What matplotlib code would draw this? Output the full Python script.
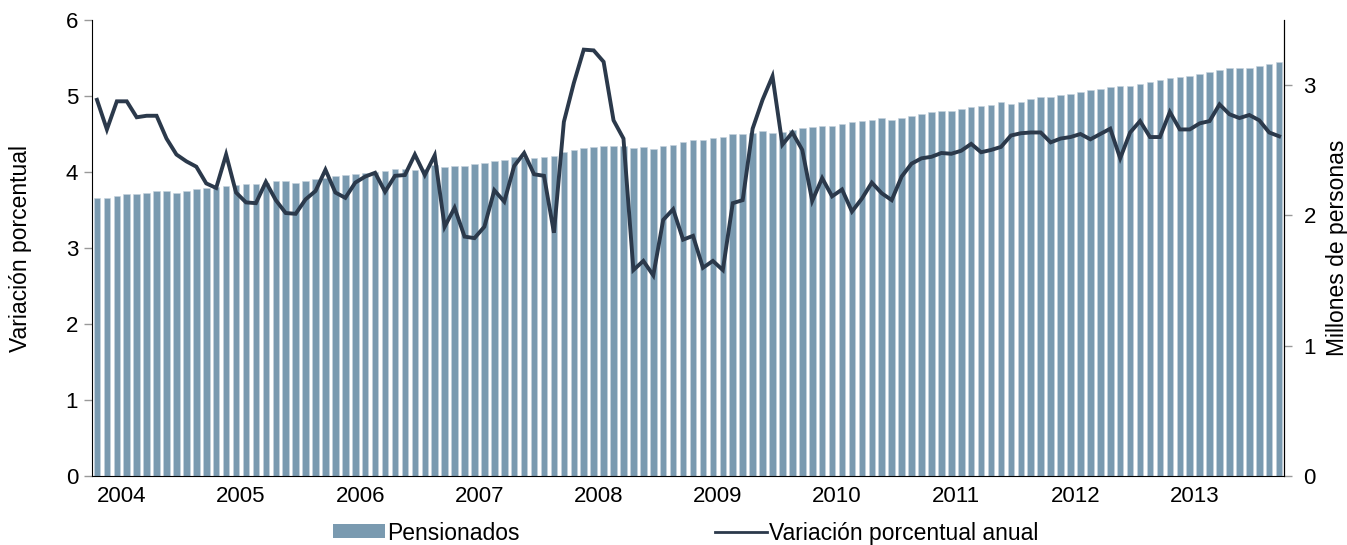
import numpy as np
import matplotlib
matplotlib.use("Agg")
import matplotlib.pyplot as plt
from matplotlib.patches import Patch
from matplotlib.lines import Line2D

plt.rcParams['font.family'] = ['Liberation Sans', 'DejaVu Sans']

# meses desde oct-2003 hasta sep-2013 (120 observaciones)
years = [2004, 2005, 2006, 2007, 2008, 2009, 2010, 2011, 2012, 2013]

# pensionados, millones de personas (eje derecho)
pensionados = [
    2.133, 2.133, 2.149, 2.162, 2.162, 2.172, 2.185, 2.185, 2.174, 2.185,
    2.200, 2.210, 2.215, 2.228, 2.233, 2.238, 2.240, 2.249, 2.264, 2.264,
    2.251, 2.264, 2.282, 2.290, 2.300, 2.308, 2.315, 2.328, 2.330, 2.338,
    2.354, 2.354, 2.346, 2.360, 2.385, 2.372, 2.382, 2.382, 2.392, 2.400,
    2.418, 2.423, 2.451, 2.450, 2.438, 2.449, 2.459, 2.485, 2.505, 2.515,
    2.523, 2.533, 2.533, 2.536, 2.520, 2.523, 2.508, 2.533, 2.544, 2.562,
    2.582, 2.582, 2.597, 2.603, 2.623, 2.623, 2.636, 2.651, 2.636, 2.641,
    2.659, 2.672, 2.677, 2.685, 2.690, 2.700, 2.715, 2.726, 2.733, 2.746,
    2.736, 2.749, 2.767, 2.782, 2.792, 2.800, 2.805, 2.818, 2.833, 2.841,
    2.851, 2.869, 2.859, 2.869, 2.892, 2.908, 2.910, 2.926, 2.933, 2.944,
    2.959, 2.969, 2.985, 2.990, 2.990, 3.008, 3.026, 3.038, 3.054, 3.059,
    3.069, 3.082, 3.100, 3.115, 3.128, 3.128, 3.128, 3.149, 3.162, 3.177,
]

# variación porcentual anual (eje izquierdo)
variacion = [
    4.95, 4.56, 4.93, 4.93, 4.72, 4.74, 4.74, 4.44, 4.23, 4.14,
    4.07, 3.85, 3.79, 4.23, 3.73, 3.60, 3.59, 3.87, 3.63, 3.46,
    3.45, 3.64, 3.75, 4.03, 3.73, 3.66, 3.86, 3.94, 3.99, 3.74,
    3.95, 3.96, 4.23, 3.96, 4.22, 3.28, 3.53, 3.15, 3.13, 3.28,
    3.76, 3.61, 4.08, 4.25, 3.97, 3.95, 3.20, 4.66, 5.17, 5.61,
    5.60, 5.45, 4.68, 4.44, 2.71, 2.83, 2.64, 3.37, 3.51, 3.11,
    3.16, 2.74, 2.83, 2.71, 3.59, 3.63, 4.57, 4.95, 5.26, 4.36,
    4.52, 4.29, 3.62, 3.92, 3.68, 3.77, 3.48, 3.65, 3.86, 3.72,
    3.63, 3.94, 4.11, 4.18, 4.20, 4.25, 4.24, 4.28, 4.37, 4.26,
    4.29, 4.33, 4.48, 4.51, 4.52, 4.52, 4.39, 4.44, 4.46, 4.50,
    4.43, 4.50, 4.57, 4.18, 4.52, 4.67, 4.46, 4.46, 4.79, 4.56,
    4.56, 4.64, 4.67, 4.89, 4.76, 4.71, 4.75, 4.68, 4.52, 4.47,
]

bar_color = '#7a9ab0'
line_color = '#2b394b'

x = np.arange(len(pensionados))

fig = plt.figure(figsize=(13.47, 5.45), dpi=100)
ax = fig.add_axes([0.0683, 0.1266, 0.885, 0.8367])
ax2 = ax.twinx()

# barras en el eje derecho, linea en el izquierdo (por encima)
ax2.bar(x, pensionados, width=0.66, color=bar_color, edgecolor='#c5d3dd', linewidth=0.4, zorder=1)
ax.plot(x, variacion, color=line_color, linewidth=2.8, zorder=3, solid_joinstyle='miter')

ax.set_zorder(ax2.get_zorder() + 1)
ax.patch.set_visible(False)

ax.set_xlim(-0.5, len(x) - 0.5)
ax.set_ylim(0, 6)
ax2.set_ylim(0, 3.5)
ax.set_yticks(range(0, 7))
ax2.set_yticks(range(0, 4))

# etiquetas de año en el limite de enero (oct-2003 = indice 0)
ax.set_xticks([2.5 + 12 * k for k in range(len(years))])
ax.set_xticklabels([str(y) for y in years])

for a in (ax, ax2):
    a.spines['top'].set_visible(False)
    a.tick_params(labelsize=16, colors='black')
ax.tick_params(axis='x', length=0, pad=7)
ax.tick_params(axis='y', length=6, width=1, color='#999999', pad=4)
ax2.tick_params(axis='y', length=6, width=1, color='#999999', pad=8)
ax2.spines['left'].set_visible(False)
ax2.spines['bottom'].set_visible(False)

ax.set_ylabel('Variación porcentual', fontsize=16.5, labelpad=24)
ax2.set_ylabel('Millones de personas', fontsize=16.5, labelpad=7)

handles = [Patch(facecolor=bar_color, edgecolor='none'),
           Line2D([0], [0], color=line_color, linewidth=2)]
fig.legend(handles, ['Pensionados', 'Variación porcentual anual'],
           loc='center', bbox_to_anchor=(0.509, 0.022), ncol=2, frameon=False,
           fontsize=16.5, handlelength=2.27, handleheight=0.55, handletextpad=0.12,
           columnspacing=8.5)

fig.savefig('out.png', dpi=100)
